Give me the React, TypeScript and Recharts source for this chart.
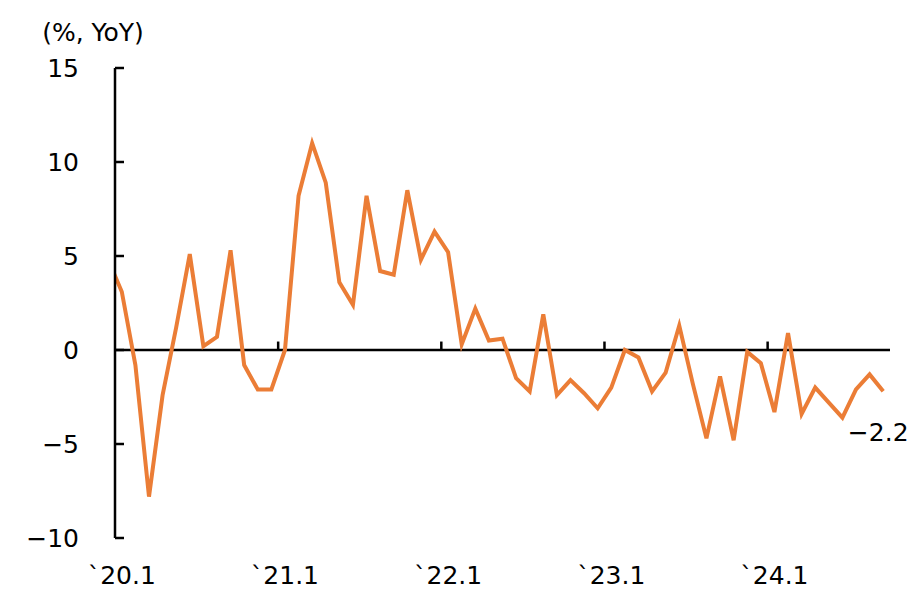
import React from 'react';
import { LineChart, Line, XAxis, YAxis, ReferenceLine } from 'recharts';

// Monthly values, % YoY. First entry is Dec 2019 (partly outside the axis), then Jan 2020 .. Sep 2024
const priorValue = [4.8];
const values2020 = [3.1, -0.8, -7.8, -2.4, 1.2, 5.1, 0.2, 0.7, 5.3, -0.8, -2.1, -2.1];
const values2021 = [0.0, 8.2, 11.0, 8.9, 3.6, 2.4, 8.2, 4.2, 4.0, 8.5, 4.8, 6.3];
const values2022 = [5.2, 0.3, 2.2, 0.5, 0.6, -1.5, -2.2, 1.9, -2.4, -1.6, -2.3, -3.1];
const values2023 = [-2.0, 0.0, -0.4, -2.2, -1.2, 1.3, -1.8, -4.7, -1.4, -4.8, -0.1, -0.7];
const values2024 = [-3.3, 0.9, -3.4, -2.0, -2.8, -3.6, -2.1, -1.3, -2.2];

const tickLabels = ['`20.1', '`21.1', '`22.1', '`23.1', '`24.1'];
const tickIndexes = [0, 12, 24, 36, 48];
const yearBoundaries = [11.5, 23.5, 35.5, 47.5];
const yTicks = [-10, -5, 0, 5, 10, 15];

const allValues = [...priorValue, ...values2020, ...values2021, ...values2022, ...values2023, ...values2024];
const data = allValues.map((v, idx) => ({ i: idx - 1, v }));
const lastIndex = data.length - 1;

const FONT = '"DejaVu Sans", sans-serif';
const fmt = (n: number) => (n < 0 ? '\u2212' + Math.abs(n) : String(n));

const YTick = (props: any) => {
  const { x, y, payload } = props;
  return (
    <g>
      <line x1={x + 36} x2={x + 45} y1={y} y2={y} stroke="#000" strokeWidth={2.5} />
      <text x={x} y={y} textAnchor="end" dominantBaseline="central" fontFamily={FONT} fontSize={25} fill="#000">
        {fmt(payload.value)}
      </text>
    </g>
  );
};

const XTick = (props: any) => {
  const { x, y, payload } = props;
  const pos = tickIndexes.indexOf(payload.value);
  return (
    <text x={x} y={y + 46} textAnchor="middle" fontFamily={FONT} fontSize={25} fill="#000">
      {pos >= 0 ? tickLabels[pos] : ''}
    </text>
  );
};

const LastLabel = (props: any) => {
  const { x, y, index, value } = props;
  if (index !== lastIndex) return null;
  return (
    <text x={x - 5} y={y + 50} textAnchor="middle" fontFamily={FONT} fontSize={25} fill="#000">
      {fmt(value)}
    </text>
  );
};

const TitleLabel = (props: any) => {
  const { viewBox } = props;
  return (
    <text x={viewBox.x + 93} y={viewBox.y - 27} textAnchor="middle" fontFamily={FONT} fontSize={25} fill="#000">
      (%, YoY)
    </text>
  );
};

export default function App() {
  return (
    <div style={{ position: 'absolute', left: 0, top: 0, background: '#fff' }}>
      <LineChart width={923} height={605} data={data} margin={{ top: 68, right: 33, bottom: 37, left: 0 }}>
        <XAxis
          dataKey="i"
          type="number"
          domain={[-0.5, 56.5]}
          allowDataOverflow
          ticks={tickIndexes}
          interval={0}
          axisLine={false}
          tickLine={false}
          tickSize={0}
          tickMargin={0}
          height={30}
          tick={<XTick />}
        />
        <YAxis
          type="number"
          domain={[-10, 15]}
          ticks={yTicks}
          interval={0}
          width={115}
          axisLine={{ stroke: '#000', strokeWidth: 2.5 }}
          tickLine={false}
          tickSize={0}
          tickMargin={36}
          tick={<YTick />}
          label={<TitleLabel />}
        />
        <ReferenceLine y={0} stroke="#000" strokeWidth={2.5} ifOverflow="hidden" />
        {yearBoundaries.map((b) => (
          <ReferenceLine
            key={b}
            segment={[{ x: b, y: 0 }, { x: b, y: 0.45 }]}
            stroke="#000"
            strokeWidth={2.5}
          />
        ))}
        <Line
          type="linear"
          dataKey="v"
          stroke="#EB7D36"
          strokeWidth={4}
          dot={false}
          isAnimationActive={false}
          label={<LastLabel />}
        />
      </LineChart>
    </div>
  );
}
